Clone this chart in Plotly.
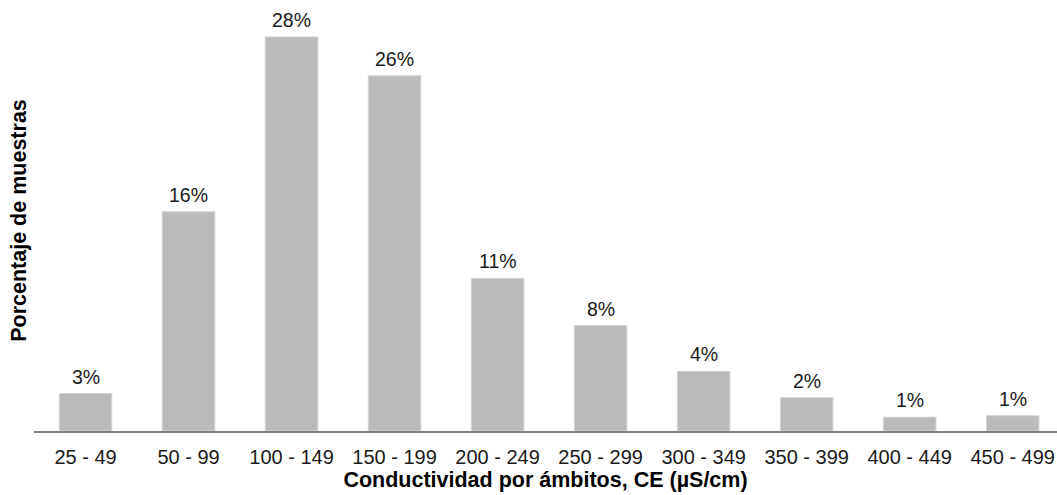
import plotly.graph_objects as go

categories = ["25 - 49", "50 - 99", "100 - 149", "150 - 199", "200 - 249",
              "250 - 299", "300 - 349", "350 - 399", "400 - 449", "450 - 499"]
values = [2.7, 15.8, 28.4, 25.6, 11.0, 7.6, 4.3, 2.4, 1.0, 1.1]
labels = ["3%", "16%", "28%", "26%", "11%", "8%", "4%", "2%", "1%", "1%"]

FONT = "Liberation Sans, Arial, sans-serif"

fig = go.Figure()
fig.add_trace(go.Bar(
    x=list(range(len(categories))),
    y=values,
    width=0.51,
    marker=dict(color="#bababa", line=dict(color="#d4d4d4", width=1)),
    hoverinfo="skip",
))

for i, (v, t) in enumerate(zip(values, labels)):
    fig.add_annotation(x=i, y=v, text=t, showarrow=False, yanchor="bottom",
                       yshift=4, font=dict(family=FONT, size=19.5, color="#1a1a1a"))

fig.update_layout(
    width=1057, height=495,
    margin=dict(l=34, r=0, t=10, b=64),
    paper_bgcolor="white", plot_bgcolor="white",
    showlegend=False,
    font=dict(family=FONT, color="#1a1a1a"),
    xaxis=dict(
        tickmode="array",
        tickvals=list(range(len(categories))),
        ticktext=categories,
        range=[-0.5, 9.43],
        showline=True, linecolor="#808080", linewidth=1.5,
        showgrid=False, zeroline=False,
        ticks="", ticklabelstandoff=7,
        tickfont=dict(family=FONT, size=20, color="#1a1a1a"),
        title=dict(text="<b>Conductividad por ámbitos, CE (µS/cm)</b>",
                   font=dict(family=FONT, size=21.5, color="#000000"), standoff=4),
    ),
    yaxis=dict(
        range=[0, 30.34],
        showline=False, showgrid=False, zeroline=False,
        showticklabels=False, ticks="",
        title=dict(text="<b>Porcentaje de muestras</b>",
                   font=dict(family=FONT, size=21.5, color="#000000"), standoff=0),
    ),
)

fig.write_html("out.html")
